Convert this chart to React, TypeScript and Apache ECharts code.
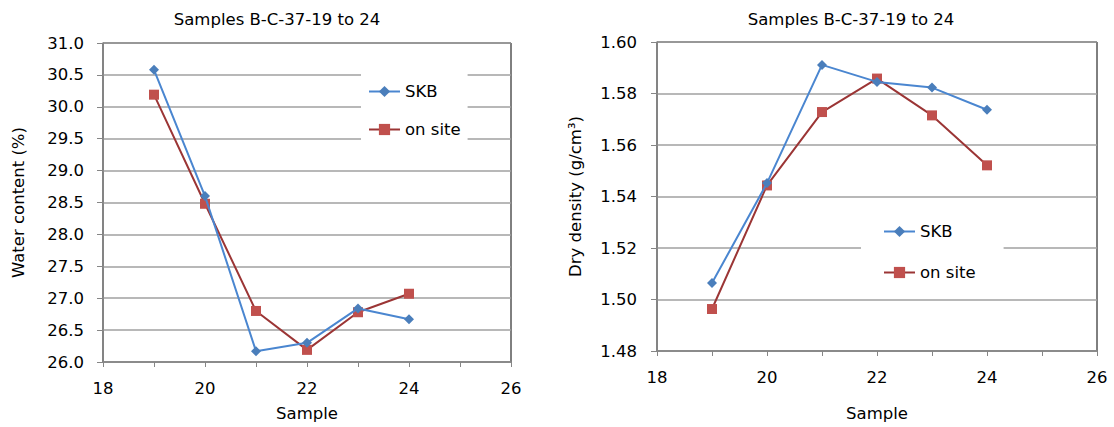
import React, { useEffect, useRef } from "react";
import * as echarts from "echarts";

const samples = [19, 20, 21, 22, 23, 24];
const waterSKB = [30.58, 28.6, 26.17, 26.3, 26.84, 26.67];
const waterOnSite = [30.19, 28.48, 26.8, 26.19, 26.78, 27.07];
const densitySKB = [1.5064, 1.5452, 1.5911, 1.5845, 1.5823, 1.5737];
const densityOnSite = [1.4963, 1.5443, 1.5728, 1.5858, 1.5715, 1.5521];
const seriesNames = ["SKB", "on site"];
const titleText = "Samples B-C-37-19 to 24";

const FONT = "DejaVu Sans";
const FS = 16.5;
const BLUE_LINE = "#4a86d0";
const BLUE_MARK = "#4a7ebb";
const RED_LINE = "#9b3535";
const RED_MARK = "#c0504d";

function pairs(xs: number[], ys: number[]) {
  return xs.map((x, i) => [x, ys[i]]);
}

export default function App() {
  const ref = useRef<HTMLDivElement>(null);
  useEffect(() => {
    if (!ref.current) return;
    const chart = echarts.init(ref.current, undefined, { renderer: "svg" });
    const xAxisBase = (gridIndex: number, nameGap: number) => ({
      type: "value" as const,
      gridIndex,
      min: 18,
      max: 26,
      interval: 2,
      name: "Sample",
      nameLocation: "middle" as const,
      nameGap,
      nameTextStyle: { fontFamily: FONT, color: "#000", fontSize: FS },
      axisLine: { show: true, lineStyle: { color: "#868686", width: 1.5 } },
      axisTick: { show: true, length: 5, lineStyle: { color: "#868686", width: 1 } },
      minorTick: { show: true, splitNumber: 2, length: 5, lineStyle: { color: "#868686", width: 1 } },
      splitLine: { show: false },
      axisLabel: { fontFamily: FONT, color: "#000", fontSize: FS, margin: 18 },
    });
    const yAxisBase = (
      gridIndex: number,
      min: number,
      max: number,
      interval: number,
      digits: number,
      name: string,
      nameGap: number,
      labelMargin: number
    ) => ({
      type: "value" as const,
      gridIndex,
      min,
      max,
      interval,
      name,
      nameLocation: "middle" as const,
      nameGap,
      nameTextStyle: { fontFamily: FONT, color: "#000", fontSize: FS },
      axisLine: { show: true, lineStyle: { color: "#868686", width: 1.5 } },
      axisTick: { show: true, length: 6, lineStyle: { color: "#868686", width: 1 } },
      splitLine: { show: true, lineStyle: { color: "#a0a0a0", width: 1.5 } },
      axisLabel: {
        fontFamily: FONT,
        color: "#000",
        fontSize: FS,
        margin: labelMargin,
        formatter: (v: number) => v.toFixed(digits),
      },
    });
    const seriesFor = (idx: number, skb: number[], onsite: number[]) => [
      {
        name: seriesNames[0],
        type: "line",
        xAxisIndex: idx,
        yAxisIndex: idx,
        data: pairs(samples, skb),
        symbol: "diamond",
        symbolSize: 10,
        lineStyle: { color: BLUE_LINE, width: 2 },
        itemStyle: { color: BLUE_MARK },
        z: 3,
      },
      {
        name: seriesNames[1],
        type: "line",
        xAxisIndex: idx,
        yAxisIndex: idx,
        data: pairs(samples, onsite),
        symbol: "rect",
        symbolSize: 10,
        lineStyle: { color: RED_LINE, width: 2 },
        itemStyle: { color: RED_MARK },
        z: 2,
      },
    ];
    const legendBase = {
      orient: "vertical" as const,
      data: seriesNames,
      backgroundColor: "#fff",
      itemWidth: 31,
      itemHeight: 14,
      textStyle: { fontFamily: FONT, color: "#000", fontSize: FS },
      selectedMode: false,
    };
    const titleStyle = { fontFamily: FONT, color: "#000", fontSize: FS, fontWeight: "normal" as const };
    chart.setOption({
      animation: false,
      backgroundColor: "#fff",
      title: [
        { text: titleText, left: 272, top: 6, textAlign: "center", textStyle: titleStyle },
        { text: titleText, left: 846, top: 6, textAlign: "center", textStyle: titleStyle },
      ],
      grid: [
        { left: 103, top: 43, width: 408, height: 319, show: true, borderColor: "#000", borderWidth: 1, backgroundColor: "transparent" },
        { left: 657, top: 42, width: 440, height: 309, show: true, borderColor: "#000", borderWidth: 1, backgroundColor: "transparent" },
      ],
      xAxis: [xAxisBase(0, 43), xAxisBase(1, 54)],
      yAxis: [
        yAxisBase(0, 26, 31, 0.5, 1, "Water content (%)", 76, 19),
        yAxisBase(1, 1.48, 1.6, 0.02, 2, "Dry density (g/cm³)", 73, 20),
      ],
      legend: [
        { ...legendBase, left: 361, top: 68, padding: [15, 7, 15, 7], itemGap: 21 },
        { ...legendBase, left: 861, top: 210, padding: [13, 28, 13, 22], itemGap: 24 },
      ],
      series: [...seriesFor(0, waterSKB, waterOnSite), ...seriesFor(1, densitySKB, densityOnSite)],
    });
    return () => chart.dispose();
  }, []);
  return <div ref={ref} style={{ position: "fixed", left: 0, top: 0, width: 1114, height: 427 }} />;
}
